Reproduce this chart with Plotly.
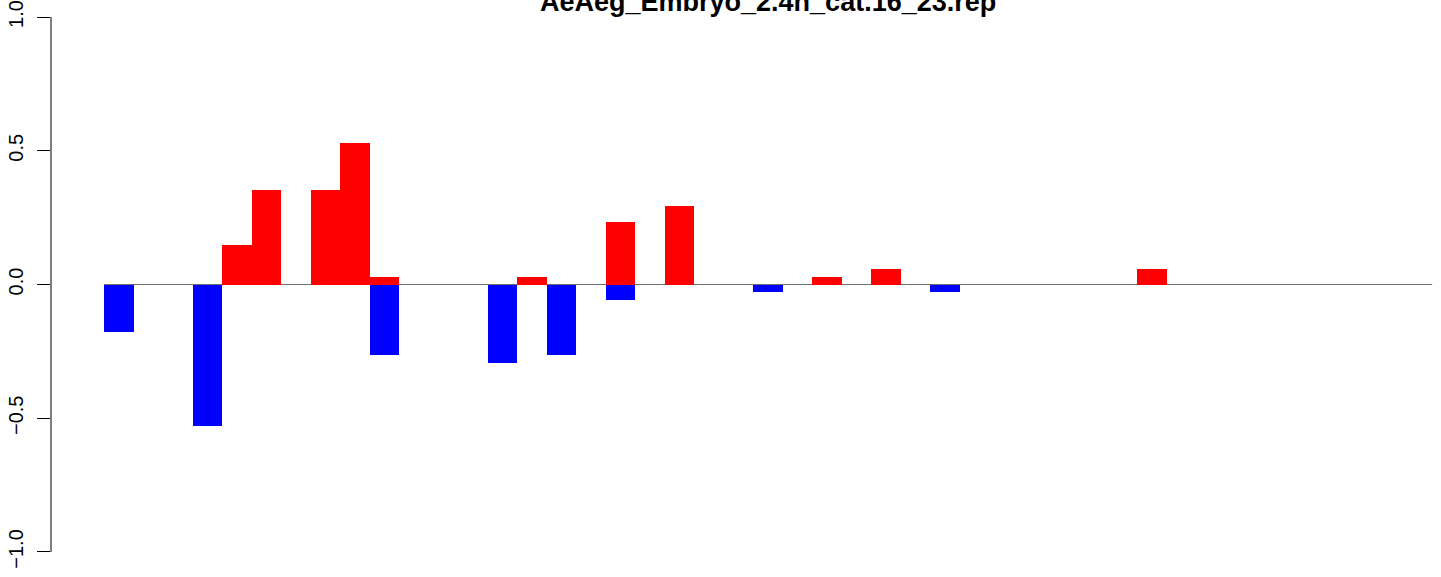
import plotly.graph_objects as go

title_text = "AeAeg_Embryo_2.4h_cat.16_23.rep"

# 45 categories (bar slots)
n_slots = 45
up_vals = [0, 0, 0, 0, 0.147, 0.353, 0, 0.353, 0.529, 0.029,
           0, 0, 0, 0, 0.029, 0, 0, 0.235, 0, 0.294,
           0, 0, 0, 0, 0.029, 0, 0.059, 0, 0, 0,
           0, 0, 0, 0, 0, 0.059, 0, 0, 0, 0,
           0, 0, 0, 0, 0]
down_vals = [-0.176, 0, 0, -0.529, 0, 0, 0, 0, 0, -0.265,
             0, 0, 0, -0.294, 0, -0.265, 0, -0.059, 0, 0,
             0, 0, -0.029, 0, 0, 0, 0, 0, -0.029, 0,
             0, 0, 0, 0, 0, 0, 0, 0, 0, 0,
             0, 0, 0, 0, 0]
y_ticks = [-1.0, -0.5, 0.0, 0.5, 1.0]
y_tick_labels = ["\u22121.0", "\u22120.5", "0.0", "0.5", "1.0"]

x_pos = [i + 0.5 for i in range(n_slots)]

fig = go.Figure()
fig.add_trace(go.Bar(x=x_pos, y=up_vals, width=1, marker=dict(color="#FF0000", line=dict(width=0)),
                     showlegend=False, hoverinfo="skip"))
fig.add_trace(go.Bar(x=x_pos, y=down_vals, width=1, marker=dict(color="#0000FF", line=dict(width=0)),
                     showlegend=False, hoverinfo="skip"))

# zero reference line across the bar slots
fig.add_shape(type="line", xref="x", yref="y", x0=0, x1=n_slots, y0=0, y1=0,
              line=dict(color="#6e6e6e", width=1.2), layer="below")
# y axis line from -1 to 1
fig.add_shape(type="line", xref="paper", yref="y", x0=0, x1=0, y0=-1, y1=1,
              line=dict(color="black", width=1))

fig.add_annotation(text="<b>" + title_text + "</b>", xref="paper", yref="paper",
                   x=(768 - 51) / 1390, y=1 - 19 / 577, xanchor="center", yanchor="bottom",
                   showarrow=False, font=dict(family="Liberation Sans, Arial, sans-serif", size=27, color="black"))

fig.update_layout(
    width=1441, height=577,
    margin=dict(l=51, r=0, t=0, b=0, autoexpand=False),
    paper_bgcolor="white", plot_bgcolor="white",
    barmode="overlay", bargap=0,
    xaxis=dict(range=[-1.8, 45.3], showgrid=False, zeroline=False, showline=False,
               showticklabels=False, ticks="", automargin=False),
    yaxis=dict(range=[-1.0935, 1.0636], showgrid=False, zeroline=False, showline=False,
               automargin=False,
               tickvals=y_ticks, ticktext=y_tick_labels, ticks="outside", ticklen=13,
               tickwidth=1, tickcolor="black", tickangle=-90, ticklabelstandoff=6,
               tickfont=dict(family="Liberation Sans, Arial, sans-serif", size=20, color="black")),
    font=dict(family="Liberation Sans, Arial, sans-serif"),
)

fig.write_html("out.html", config={"displayModeBar": False, "staticPlot": True},
               post_script="document.body.style.margin='0';document.body.style.padding='0';"
                           "document.body.style.overflow='hidden';")
